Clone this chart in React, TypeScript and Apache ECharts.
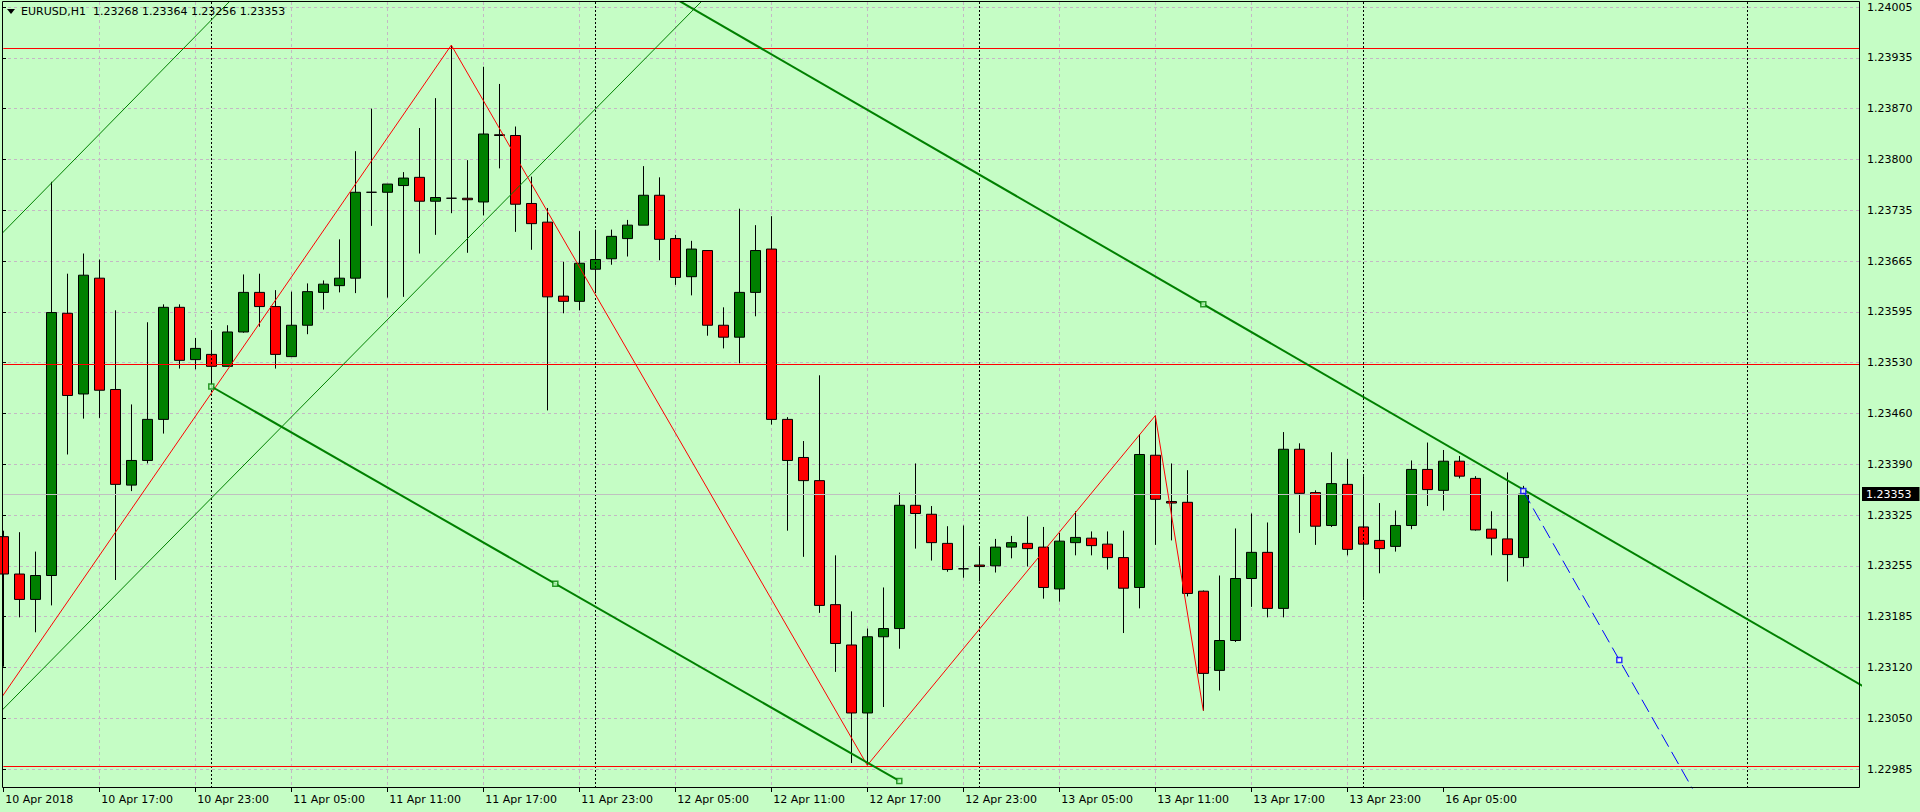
import React, { useEffect, useRef } from 'react';
import * as echarts from 'echarts';

// ---------- DATA ----------
const symbolName = 'EURUSD,H1';
// H1 bars, index 0 = 10 Apr 2018 11:00 (broker time)
const opens = [
  1.23296, 1.23246, 1.23212, 1.23244, 1.23595, 1.23487, 1.23642, 1.23493, 1.23365, 1.23398,
  1.23453, 1.23603, 1.23533, 1.23540, 1.23524, 1.23570, 1.23623, 1.23604, 1.23537, 1.23579,
  1.23623, 1.23632, 1.23642, 1.23757, 1.23757, 1.23766, 1.23777, 1.23745, 1.23749, 1.23749,
  1.23744, 1.23834, 1.23833, 1.23742, 1.23717, 1.23618, 1.23611, 1.23654, 1.23668, 1.23695,
  1.23713, 1.23753, 1.23695, 1.23644, 1.23679, 1.23579, 1.23563, 1.23623, 1.23681, 1.23453,
  1.23402, 1.23371, 1.23205, 1.23151, 1.23060, 1.23162, 1.23173, 1.23338, 1.23326, 1.23287,
  1.23253, 1.23258, 1.23257, 1.23282, 1.23287, 1.23282, 1.23226, 1.23288, 1.23294, 1.23286,
  1.23268, 1.23228, 1.23405, 1.23343, 1.23342, 1.23223, 1.23117, 1.23157, 1.23240, 1.23275,
  1.23200, 1.23413, 1.23355, 1.23311, 1.23366, 1.23309, 1.23291, 1.23283, 1.23311, 1.23386,
  1.23358, 1.23397, 1.23374, 1.23306, 1.23293, 1.23268,
];
const closes = [
  1.23246, 1.23212, 1.23244, 1.23596, 1.23485, 1.23646, 1.23492, 1.23366, 1.23398, 1.23453,
  1.23603, 1.23532, 1.23548, 1.23524, 1.23570, 1.23623, 1.23604, 1.23540, 1.23579, 1.23624,
  1.23634, 1.23642, 1.23757, 1.23757, 1.23768, 1.23776, 1.23745, 1.23750, 1.23749, 1.23747,
  1.23835, 1.23833, 1.23741, 1.23715, 1.23617, 1.23611, 1.23662, 1.23667, 1.23698, 1.23713,
  1.23753, 1.23694, 1.23643, 1.23681, 1.23579, 1.23563, 1.23623, 1.23679, 1.23453, 1.23398,
  1.23371, 1.23204, 1.23153, 1.23060, 1.23162, 1.23173, 1.23338, 1.23327, 1.23288, 1.23252,
  1.23253, 1.23256, 1.23282, 1.23288, 1.23280, 1.23228, 1.23290, 1.23295, 1.23284, 1.23268,
  1.23227, 1.23406, 1.23346, 1.23341, 1.23220, 1.23113, 1.23157, 1.23240, 1.23275, 1.23200,
  1.23413, 1.23354, 1.23310, 1.23367, 1.23279, 1.23286, 1.23280, 1.23311, 1.23386, 1.23359,
  1.23397, 1.23377, 1.23305, 1.23294, 1.23272, 1.23353,
];
const highs = [
  1.23304, 1.23302, 1.23276, 1.23771, 1.23648, 1.23675, 1.23667, 1.23599, 1.23473, 1.23583,
  1.23607, 1.23607, 1.23562, 1.23570, 1.23579, 1.23647, 1.23648, 1.23626, 1.23624, 1.23635,
  1.23639, 1.23694, 1.23812, 1.23869, 1.23768, 1.23784, 1.23843, 1.23883, 1.23954, 1.23800,
  1.23925, 1.23902, 1.23845, 1.23778, 1.23736, 1.23664, 1.23705, 1.23707, 1.23707, 1.23720,
  1.23792, 1.23777, 1.23700, 1.23692, 1.23679, 1.23603, 1.23735, 1.23713, 1.23725, 1.23456,
  1.23424, 1.23512, 1.23271, 1.23196, 1.23173, 1.23228, 1.23355, 1.23394, 1.23337, 1.23310,
  1.23311, 1.23283, 1.23293, 1.23297, 1.23323, 1.23309, 1.23301, 1.23330, 1.23303, 1.23303,
  1.23304, 1.23433, 1.23458, 1.23394, 1.23385, 1.23224, 1.23244, 1.23307, 1.23327, 1.23315,
  1.23436, 1.23421, 1.23358, 1.23409, 1.23400, 1.23377, 1.23341, 1.23331, 1.23398, 1.23422,
  1.23412, 1.23404, 1.23377, 1.23330, 1.23382, 1.23364,
];
const lows = [
  1.23122, 1.23188, 1.23168, 1.23204, 1.23406, 1.23454, 1.23455, 1.23238, 1.23357, 1.23394,
  1.23434, 1.23521, 1.23520, 1.23497, 1.23524, 1.23569, 1.23577, 1.23521, 1.23537, 1.23567,
  1.23600, 1.23623, 1.23622, 1.23712, 1.23616, 1.23617, 1.23675, 1.23700, 1.23729, 1.23676,
  1.23726, 1.23789, 1.23704, 1.23680, 1.23465, 1.23595, 1.23599, 1.23622, 1.23660, 1.23671,
  1.23713, 1.23666, 1.23633, 1.23619, 1.23565, 1.23548, 1.23528, 1.23591, 1.23446, 1.23304,
  1.23269, 1.23194, 1.23115, 1.22993, 1.22990, 1.23068, 1.23146, 1.23280, 1.23264, 1.23249,
  1.23241, 1.23236, 1.23248, 1.23267, 1.23256, 1.23213, 1.23209, 1.23271, 1.23271, 1.23252,
  1.23167, 1.23200, 1.23285, 1.23291, 1.23216, 1.23063, 1.23090, 1.23155, 1.23202, 1.23188,
  1.23188, 1.23301, 1.23285, 1.23309, 1.23271, 1.23214, 1.23247, 1.23276, 1.23306, 1.23337,
  1.23331, 1.23374, 1.23304, 1.23271, 1.23236, 1.23256,
];

// time-axis labels (bar index -> text)
const xLabelIdx = [0, 6, 12, 18, 24, 30, 36, 42, 48, 54, 60, 66, 72, 78, 84, 90];
const xLabels = [
  '10 Apr 2018', '10 Apr 17:00', '10 Apr 23:00', '11 Apr 05:00', '11 Apr 11:00', '11 Apr 17:00',
  '11 Apr 23:00', '12 Apr 05:00', '12 Apr 11:00', '12 Apr 17:00', '12 Apr 23:00', '13 Apr 05:00',
  '13 Apr 11:00', '13 Apr 17:00', '13 Apr 23:00', '16 Apr 05:00',
];
// price scale labels, bottom to top
const yLabels = [
  '1.22985', '1.23050', '1.23120', '1.23185', '1.23255', '1.23325', '1.23390', '1.23460',
  '1.23530', '1.23595', '1.23665', '1.23735', '1.23800', '1.23870', '1.23935', '1.24005',
];
// day separators (bar index of 00:00)
const separators = [13, 37, 61, 85, 109];
// horizontal line objects
const hLevels = [1.2395, 1.23527, 1.22989];
// ZigZag vertices
const zzIdx = [-2, 28, 54, 72, 75];
const zzPrice = [1.23022, 1.23954, 1.2299, 1.23458, 1.23063];
// thin channel lines (two anchor points each)
const chanAIdx = [-2, 16];
const chanAPrice = [1.2366, 1.24053];
const chanBIdx = [-2, 45];
const chanBPrice = [1.23022, 1.24042];
// thick trend lines
const trendCIdx = [40, 118];
const trendCPrice = [1.24041, 1.23074];
const trendDIdx = [13, 56];
const trendDPrice = [1.23497, 1.22969];
// blue dashed ray
const blueIdx = [95, 101, 110];
const bluePrice = [1.23357, 1.23131, 1.22792];
// selected-object anchor markers
const greenMarkIdx = [13, 34.5, 56, 75];
const greenMarkPrice = [1.23497, 1.23233, 1.22969, 1.23607];
const blueMarkIdx = [95, 101];
const blueMarkPrice = [1.23357, 1.23131];

// ---------- LAYOUT / STYLE ----------
const W = 1920;
const H = 812;
const BG = '#c5fdc5';
const GRID_COLOR = '#c4b8c4';
const FONT = 'DejaVu Sans';
const PLOT_LEFT = 2;
const PLOT_RIGHT = 1860;
const PLOT_TOP = 2;
const PLOT_BOTTOM = 788;
const LABEL_TOP = 7;
const LABEL_BOTTOM = 769;
const BAR_STEP = 16;
const BAR0_X = 3.3;

const zip = (a: number[], b: number[]) => a.map((v, i) => [v, b[i]]);

export default function App() {
  const ref = useRef<HTMLDivElement>(null);
  useEffect(() => {
    document.body.style.margin = '0';
    document.body.style.background = BG;
    if (!ref.current) return;
    const chart = echarts.init(ref.current, null, { renderer: 'svg' });

    const yTop = parseFloat(yLabels[yLabels.length - 1]);
    const yBot = parseFloat(yLabels[0]);
    const pricePerPx = (yTop - yBot) / (LABEL_BOTTOM - LABEL_TOP);
    const yMin = yBot - (PLOT_BOTTOM - LABEL_BOTTOM) * pricePerPx;
    const yMax = yTop + (LABEL_TOP - PLOT_TOP) * pricePerPx;
    const xMax = (PLOT_RIGHT - BAR0_X) / BAR_STEP;

    const candles = opens.map((o, i) => [i, o, closes[i], lows[i], highs[i]]);
    const n = opens.length - 1;
    const header = `${symbolName}  ${opens[n].toFixed(5)} ${highs[n].toFixed(5)} ${lows[n].toFixed(5)} ${closes[n].toFixed(5)}`;

    const lineBase = {
      type: 'line',
      xAxisIndex: 0,
      yAxisIndex: 0,
      showSymbol: false,
      symbol: 'none',
      clip: true,
      silent: true,
    };

    chart.setOption({
      animation: false,
      backgroundColor: BG,
      textStyle: { fontFamily: FONT },
      grid: [
        { left: BAR0_X, right: W - PLOT_RIGHT, top: PLOT_TOP, bottom: H - PLOT_BOTTOM, containLabel: false },
        { left: PLOT_LEFT, right: W - PLOT_RIGHT, top: LABEL_TOP, bottom: H - LABEL_BOTTOM, containLabel: false },
      ],
      xAxis: [
        {
          type: 'value',
          gridIndex: 0,
          min: 0,
          max: xMax,
          interval: 3,
          axisLine: { show: false },
          axisTick: { show: true, length: 4, customValues: xLabelIdx, lineStyle: { color: '#000' } },
          axisLabel: {
            show: true,
            customValues: xLabelIdx,
            formatter: (v: number) => {
              const k = xLabelIdx.indexOf(Math.round(v));
              return k >= 0 ? xLabels[k] : '';
            },
            align: 'left',
            margin: 6,
            padding: [0, 0, 0, 2],
            color: '#000',
            fontSize: 11,
            fontFamily: FONT,
          },
          splitLine: {
            show: true,
            showMinLine: false,
            showMaxLine: false,
            lineStyle: { color: GRID_COLOR, type: [3, 3], width: 1 },
          },
        },
        { type: 'value', gridIndex: 1, min: 0, max: 1, show: false },
      ],
      yAxis: [
        {
          type: 'value',
          gridIndex: 0,
          min: yMin,
          max: yMax,
          scale: true,
          show: false,
          splitLine: { show: false },
        },
        {
          type: 'value',
          gridIndex: 1,
          position: 'right',
          min: 0,
          max: yLabels.length - 1,
          interval: 1,
          axisLine: { show: false },
          axisTick: { show: true, length: 4, lineStyle: { color: '#000' } },
          axisLabel: {
            formatter: (v: number) => yLabels[Math.round(v)] ?? '',
            margin: 7,
            color: '#000',
            fontSize: 11,
            fontFamily: FONT,
          },
          splitLine: { show: true, lineStyle: { color: GRID_COLOR, type: [3, 3], width: 1 } },
        },
      ],
      series: [
        {
          type: 'candlestick',
          xAxisIndex: 0,
          yAxisIndex: 0,
          data: candles,
          barWidth: 10,
          z: 3,
          silent: true,
          itemStyle: {
            color: '#008000',
            color0: '#ff0000',
            borderColor: '#000000',
            borderColor0: '#000000',
            borderColorDoji: '#000000',
            borderWidth: 1,
          },
          markLine: {
            silent: true,
            symbol: ['none', 'none'],
            animation: false,
            precision: 5,
            data: [
              ...separators.map((s) => ({
                xAxis: s,
                lineStyle: { color: '#000', type: [2, 2], width: 1 },
                label: { show: false },
              })),
              {
                yAxis: closes[n],
                lineStyle: { color: '#c0c0c0', type: 'solid', width: 1 },
                label: {
                  show: true,
                  position: 'end',
                  distance: 2,
                  formatter: closes[n].toFixed(5),
                  color: '#ffffff',
                  backgroundColor: '#000000',
                  padding: [2, 8, 1, 4],
                  fontSize: 11,
                  fontFamily: FONT,
                },
              },
            ],
          },
        },
        {
          ...lineBase,
          name: 'chanA',
          z: 5,
          data: zip(chanAIdx, chanAPrice),
          lineStyle: { color: '#008000', width: 1 },
        },
        {
          ...lineBase,
          name: 'chanB',
          z: 5,
          data: zip(chanBIdx, chanBPrice),
          lineStyle: { color: '#008000', width: 1 },
        },
        {
          ...lineBase,
          name: 'zigzag',
          z: 6,
          data: zip(zzIdx, zzPrice),
          lineStyle: { color: '#ff0000', width: 1 },
          markLine: {
            silent: true,
            symbol: ['none', 'none'],
            animation: false,
            precision: 5,
            label: { show: false },
            lineStyle: { color: '#ff0000', type: 'solid', width: 1 },
            data: hLevels.map((v) => ({ yAxis: v })),
          },
        },
        {
          ...lineBase,
          name: 'trendC',
          z: 6,
          data: zip(trendCIdx, trendCPrice),
          lineStyle: { color: '#008000', width: 2 },
        },
        {
          ...lineBase,
          name: 'trendD',
          z: 6,
          data: zip(trendDIdx, trendDPrice),
          lineStyle: { color: '#008000', width: 2 },
        },
        {
          ...lineBase,
          name: 'blue',
          z: 6,
          data: zip(blueIdx, bluePrice),
          lineStyle: { color: '#0000ff', width: 1, type: [14, 6] },
        },
        {
          type: 'scatter',
          xAxisIndex: 0,
          yAxisIndex: 0,
          z: 7,
          silent: true,
          symbol: 'rect',
          symbolSize: 5,
          data: zip(greenMarkIdx, greenMarkPrice),
          itemStyle: { color: BG, borderColor: '#008000', borderWidth: 1.5 },
        },
        {
          type: 'scatter',
          xAxisIndex: 0,
          yAxisIndex: 0,
          z: 7,
          silent: true,
          symbol: 'rect',
          symbolSize: 5,
          data: zip(blueMarkIdx, blueMarkPrice),
          itemStyle: { color: '#ffffff', borderColor: '#0000ff', borderWidth: 1.5 },
        },
      ],
      graphic: [
        {
          type: 'rect',
          z: 100,
          silent: true,
          shape: {
            x: PLOT_LEFT + 0.5,
            y: PLOT_TOP - 0.5,
            width: PLOT_RIGHT - PLOT_LEFT - 1,
            height: PLOT_BOTTOM - PLOT_TOP,
          },
          style: { fill: 'none', stroke: '#000', lineWidth: 1 },
        },
        {
          type: 'polygon',
          z: 100,
          silent: true,
          shape: { points: [[7, 9], [15, 9], [11, 14]] },
          style: { fill: '#000' },
        },
        {
          type: 'text',
          z: 100,
          silent: true,
          left: 21,
          top: 6,
          style: { text: header, fill: '#000', fontSize: 11, fontFamily: FONT },
        },
      ],
    });
    return () => chart.dispose();
  }, []);
  return <div ref={ref} style={{ width: W, height: H }} />;
}
